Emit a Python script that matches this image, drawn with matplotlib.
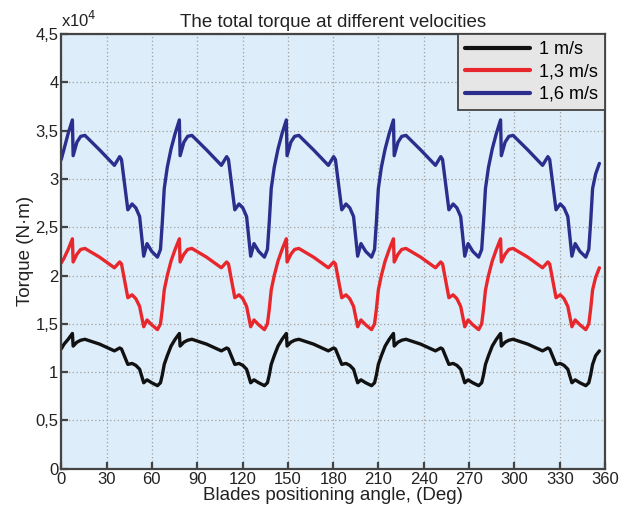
import matplotlib
matplotlib.use('Agg')
import matplotlib.pyplot as plt
from matplotlib.ticker import FuncFormatter

plt.rcParams['font.family'] = ['Liberation Sans', 'DejaVu Sans']

# blade positioning angle, deg
angle = [
    0.0, 1.9, 4.6, 7.4, 7.9, 10.4, 12.9, 15.7, 25.4, 35.2, 38.7, 39.9, 44.1, 46.9, 49.4, 51.9, 54.6, 56.8, 59.9,
    63.7, 65.7, 66.9, 68.2, 70.2, 72.7, 75.4, 78.2, 78.7, 81.2, 83.7, 86.5, 96.2, 106.0, 109.5, 110.7, 114.9, 117.7, 120.2, 122.7, 125.4, 127.6, 130.7,
    134.5, 136.5, 137.7, 139.0, 141.0, 143.5, 146.2, 149.0, 149.5, 152.0, 154.5, 157.3, 167.0, 176.8, 180.3, 181.5, 185.7, 188.5, 191.0, 193.5, 196.2, 198.4, 201.5,
    205.4, 207.4, 208.6, 209.9, 211.9, 214.4, 217.1, 219.9, 220.4, 222.9, 225.4, 228.2, 237.9, 247.7, 251.2, 252.4, 256.6, 259.4, 261.9, 264.4, 267.1, 269.3, 272.4,
    276.3, 278.3, 279.5, 280.8, 282.8, 285.3, 288.0, 290.8, 291.3, 293.8, 296.3, 299.1, 308.8, 318.6, 322.1, 323.3, 327.5, 330.3, 332.8, 335.3, 338.0, 340.2, 343.3,
    347.2, 349.2, 350.4, 351.7, 353.7, 356.2,
]

# torque, x10^4 N*m
torque_1_0 = [
    1.24, 1.29, 1.34, 1.40, 1.27, 1.31, 1.33, 1.34, 1.29, 1.22, 1.25, 1.24, 1.08, 1.09, 1.07, 1.03, 0.89, 0.92, 0.89,
    0.86, 0.89, 0.97, 1.08, 1.17, 1.27, 1.34, 1.40, 1.27, 1.31, 1.33, 1.34, 1.29, 1.22, 1.25, 1.24, 1.08, 1.09, 1.07, 1.03, 0.89, 0.92, 0.89,
    0.86, 0.89, 0.97, 1.08, 1.17, 1.27, 1.34, 1.40, 1.27, 1.31, 1.33, 1.34, 1.29, 1.22, 1.25, 1.24, 1.08, 1.09, 1.07, 1.03, 0.89, 0.92, 0.89,
    0.86, 0.89, 0.97, 1.08, 1.17, 1.27, 1.34, 1.40, 1.27, 1.31, 1.33, 1.34, 1.29, 1.22, 1.25, 1.24, 1.08, 1.09, 1.07, 1.03, 0.89, 0.92, 0.89,
    0.86, 0.89, 0.97, 1.08, 1.17, 1.27, 1.34, 1.40, 1.27, 1.31, 1.33, 1.34, 1.29, 1.22, 1.25, 1.24, 1.08, 1.09, 1.07, 1.03, 0.89, 0.92, 0.89,
    0.86, 0.89, 0.97, 1.08, 1.17, 1.22,
]
torque_1_3 = [
    2.13, 2.18, 2.27, 2.38, 2.14, 2.22, 2.27, 2.28, 2.19, 2.08, 2.14, 2.12, 1.77, 1.80, 1.76, 1.68, 1.47, 1.54, 1.49,
    1.44, 1.50, 1.65, 1.85, 2.00, 2.15, 2.27, 2.38, 2.14, 2.22, 2.27, 2.28, 2.19, 2.08, 2.14, 2.12, 1.77, 1.80, 1.76, 1.68, 1.47, 1.54, 1.49,
    1.44, 1.50, 1.65, 1.85, 2.00, 2.15, 2.27, 2.38, 2.14, 2.22, 2.27, 2.28, 2.19, 2.08, 2.14, 2.12, 1.77, 1.80, 1.76, 1.68, 1.47, 1.54, 1.49,
    1.44, 1.50, 1.65, 1.85, 2.00, 2.15, 2.27, 2.38, 2.14, 2.22, 2.27, 2.28, 2.19, 2.08, 2.14, 2.12, 1.77, 1.80, 1.76, 1.68, 1.47, 1.54, 1.49,
    1.44, 1.50, 1.65, 1.85, 2.00, 2.15, 2.27, 2.38, 2.14, 2.22, 2.27, 2.28, 2.19, 2.08, 2.14, 2.12, 1.77, 1.80, 1.76, 1.68, 1.47, 1.54, 1.49,
    1.44, 1.50, 1.65, 1.85, 1.98, 2.08,
]
torque_1_6 = [
    3.20, 3.31, 3.47, 3.61, 3.24, 3.38, 3.44, 3.45, 3.30, 3.14, 3.23, 3.20, 2.68, 2.74, 2.70, 2.61, 2.20, 2.33, 2.25,
    2.19, 2.27, 2.55, 2.90, 3.12, 3.31, 3.47, 3.61, 3.24, 3.38, 3.44, 3.45, 3.30, 3.14, 3.23, 3.20, 2.68, 2.74, 2.70, 2.61, 2.20, 2.33, 2.25,
    2.19, 2.27, 2.55, 2.90, 3.12, 3.31, 3.47, 3.61, 3.24, 3.38, 3.44, 3.45, 3.30, 3.14, 3.23, 3.20, 2.68, 2.74, 2.70, 2.61, 2.20, 2.33, 2.25,
    2.19, 2.27, 2.55, 2.90, 3.12, 3.31, 3.47, 3.61, 3.24, 3.38, 3.44, 3.45, 3.30, 3.14, 3.23, 3.20, 2.68, 2.74, 2.70, 2.61, 2.20, 2.33, 2.25,
    2.19, 2.27, 2.55, 2.90, 3.12, 3.31, 3.47, 3.61, 3.24, 3.38, 3.44, 3.45, 3.30, 3.14, 3.23, 3.20, 2.68, 2.74, 2.70, 2.61, 2.20, 2.33, 2.25,
    2.19, 2.27, 2.55, 2.90, 3.05, 3.16,
]

labels = ['1 m/s', '1,3 m/s', '1,6 m/s']
colors = ['#111111', '#e8272d', '#2b2e8c']
x_ticks = list(range(0, 361, 30))
y_ticks = [0, 0.5, 1, 1.5, 2, 2.5, 3, 3.5, 4, 4.5]

fig = plt.figure(figsize=(6.31, 5.14), dpi=100)
ax = fig.add_axes([0.097, 0.088, 0.862, 0.846])
ax.set_facecolor('#ddedf9')

for y, lab, c in zip([torque_1_0, torque_1_3, torque_1_6], labels, colors):
    ax.plot(angle, y, color=c, linewidth=2.4, label=lab,
            solid_joinstyle='round', solid_capstyle='round')

ax.set_xlim(0, 360)
ax.set_ylim(0, 4.5)
ax.set_xticks(x_ticks)
ax.set_yticks(y_ticks)
ax.yaxis.set_major_formatter(FuncFormatter(lambda v, p: ('%g' % v).replace('.', ',')))
ax.grid(True, color='#a0a0a0', linestyle=(0, (1, 2)), linewidth=0.9)

for s in ax.spines.values():
    s.set_color('#444444')
    s.set_linewidth(1.6)
ax.tick_params(direction='in', length=5, width=1.6, color='#444444',
               labelsize=12, labelcolor='#222222', pad=2)

ax.set_title('The total torque at different velocities', fontsize=13.5, color='#222222', pad=5)
ax.set_xlabel('Blades positioning angle, (Deg)', fontsize=13.5, color='#222222', labelpad=0)
ax.set_ylabel('Torque (N·m)', fontsize=13.5, color='#222222', labelpad=1)
ax.text(0.0, 1.008, 'x10$^4$', transform=ax.transAxes, ha='left', va='bottom',
        fontsize=12, color='#222222')

leg = ax.legend(loc='upper right', fontsize=13, handlelength=3.6, borderaxespad=0,
                fancybox=False, framealpha=1, edgecolor='#444444', borderpad=0.4,
                labelspacing=0.3, handletextpad=0.5)
leg.get_frame().set_facecolor('#e6e6e6')
leg.get_frame().set_linewidth(1.3)
for line in leg.get_lines():
    line.set_linewidth(3.0)

plt.savefig('out.png', dpi=100)
